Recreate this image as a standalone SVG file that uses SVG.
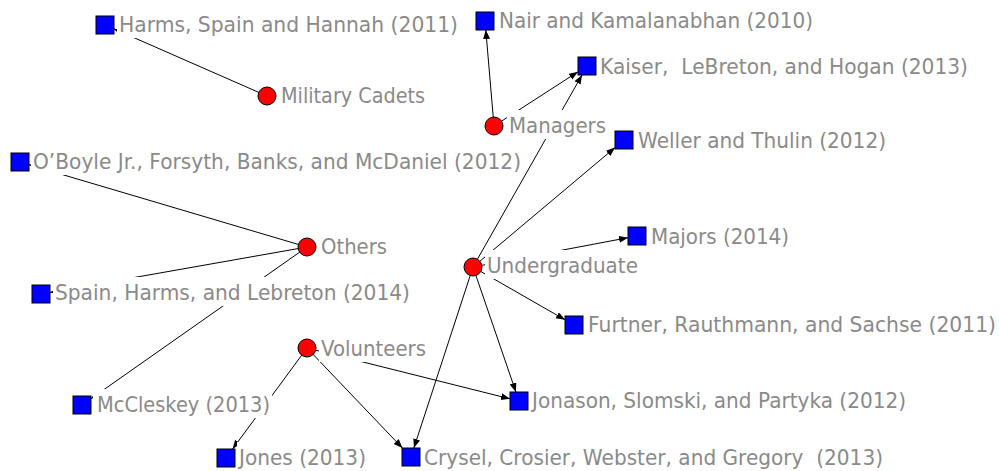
<svg xmlns="http://www.w3.org/2000/svg" width="999" height="471" viewBox="0 0 999 471">
<defs>
<marker id="arr" markerUnits="userSpaceOnUse" markerWidth="10" markerHeight="8" refX="9" refY="3.5" orient="auto">
<path d="M0,0 L9,3.5 L0,7 z" fill="#000"/>
</marker>
</defs>
<style>
.bg{fill:#fff;stroke:none}
.sq{fill:#0000ff;stroke:#000;stroke-width:1}
.ci{fill:#ff0000;stroke:#000;stroke-width:1}
.lb{font-family:"DejaVu Sans","Liberation Sans",sans-serif;font-size:20.5px;fill:#8a8a8a;white-space:pre}
.ed{stroke:#000;stroke-width:1;fill:none;marker-end:url(#arr)}
</style>
<rect width="999" height="471" fill="#fff"/>
<g id="connectors">
<line class="ed" x1="267" y1="96" x2="114" y2="28.9"/>
<line class="ed" x1="494" y1="126" x2="485.8" y2="30"/>
<line class="ed" x1="494" y1="126" x2="578" y2="71.8"/>
<line class="ed" x1="473" y1="267" x2="582" y2="75"/>
<line class="ed" x1="473" y1="267" x2="615" y2="147.6"/>
<line class="ed" x1="473" y1="267" x2="628" y2="237.7"/>
<line class="ed" x1="473" y1="267" x2="565" y2="319.8"/>
<line class="ed" x1="473" y1="267" x2="515.9" y2="392"/>
<line class="ed" x1="473" y1="267" x2="413.9" y2="448"/>
<line class="ed" x1="307" y1="348" x2="510" y2="398.8"/>
<line class="ed" x1="307" y1="348" x2="232.6" y2="449"/>
<line class="ed" x1="307" y1="348" x2="402.4" y2="448"/>
<line class="ed" x1="307" y1="247" x2="29" y2="164.7"/>
<line class="ed" x1="307" y1="247" x2="50" y2="292.4"/>
<line class="ed" x1="307" y1="247" x2="91" y2="398.7"/>
</g>
<g id="n-harms"><rect class="bg" x="117" y="9" width="343" height="29"/><rect class="sq" x="96" y="16" width="18" height="18"/><text class="lb" x="119" y="32" textLength="339" lengthAdjust="spacingAndGlyphs">Harms, Spain and Hannah (2011)</text></g>
<g id="n-military"><rect class="bg" x="279" y="80" width="148" height="29"/><circle class="ci" cx="267" cy="96" r="9"/><text class="lb" x="281" y="103" textLength="144" lengthAdjust="spacingAndGlyphs">Military Cadets</text></g>
<g id="n-nair"><rect class="bg" x="497" y="5" width="318" height="29"/><rect class="sq" x="476" y="12" width="18" height="18"/><text class="lb" x="499" y="28" textLength="314" lengthAdjust="spacingAndGlyphs">Nair and Kamalanabhan (2010)</text></g>
<g id="n-kaiser"><rect class="bg" x="598" y="51" width="372" height="29"/><rect class="sq" x="578" y="57" width="18" height="18"/><text class="lb" x="600" y="74" textLength="368" lengthAdjust="spacingAndGlyphs">Kaiser,  LeBreton, and Hogan (2013)</text></g>
<g id="n-managers"><rect class="bg" x="507" y="110" width="101" height="29"/><circle class="ci" cx="494" cy="126" r="9"/><text class="lb" x="509" y="133" textLength="97" lengthAdjust="spacingAndGlyphs">Managers</text></g>
<g id="n-weller"><rect class="bg" x="636" y="125" width="252" height="29"/><rect class="sq" x="615" y="131" width="18" height="18"/><text class="lb" x="638" y="148" textLength="248" lengthAdjust="spacingAndGlyphs">Weller and Thulin (2012)</text></g>
<g id="n-oboyle"><rect class="bg" x="31" y="146" width="492" height="29"/><rect class="sq" x="11" y="153" width="18" height="18"/><text class="lb" x="33" y="169" textLength="488" lengthAdjust="spacingAndGlyphs">O’Boyle Jr., Forsyth, Banks, and McDaniel (2012)</text></g>
<g id="n-others"><rect class="bg" x="319" y="231" width="70" height="29"/><circle class="ci" cx="307" cy="247" r="9"/><text class="lb" x="321" y="254" textLength="66" lengthAdjust="spacingAndGlyphs">Others</text></g>
<g id="n-majors"><rect class="bg" x="649" y="221" width="142" height="29"/><rect class="sq" x="628" y="227" width="18" height="18"/><text class="lb" x="651" y="244" textLength="138" lengthAdjust="spacingAndGlyphs">Majors (2014)</text></g>
<g id="n-undergraduate"><rect class="bg" x="485" y="250" width="155" height="29"/><circle class="ci" cx="473" cy="267" r="9"/><text class="lb" x="487" y="273" textLength="151" lengthAdjust="spacingAndGlyphs">Undergraduate</text></g>
<g id="n-spain"><rect class="bg" x="53" y="277" width="359" height="29"/><rect class="sq" x="32" y="285" width="18" height="18"/><text class="lb" x="55" y="300" textLength="355" lengthAdjust="spacingAndGlyphs">Spain, Harms, and Lebreton (2014)</text></g>
<g id="n-furtner"><rect class="bg" x="586" y="309" width="412" height="29"/><rect class="sq" x="565" y="316" width="18" height="18"/><text class="lb" x="588" y="332" textLength="408" lengthAdjust="spacingAndGlyphs">Furtner, Rauthmann, and Sachse (2011)</text></g>
<g id="n-volunteers"><rect class="bg" x="319" y="333" width="109" height="29"/><circle class="ci" cx="307" cy="348" r="9"/><text class="lb" x="321" y="356" textLength="105" lengthAdjust="spacingAndGlyphs">Volunteers</text></g>
<g id="n-jonason"><rect class="bg" x="530" y="385" width="378" height="29"/><rect class="sq" x="510" y="392" width="18" height="18"/><text class="lb" x="532" y="408" textLength="374" lengthAdjust="spacingAndGlyphs">Jonason, Slomski, and Partyka (2012)</text></g>
<g id="n-mccleskey"><rect class="bg" x="93" y="389" width="179" height="29"/><rect class="sq" x="73" y="396" width="18" height="18"/><text class="lb" x="97" y="412" textLength="173" lengthAdjust="spacingAndGlyphs">McCleskey (2013)</text></g>
<g id="n-jones"><rect class="bg" x="237" y="442" width="131" height="29"/><rect class="sq" x="217" y="449" width="18" height="18"/><text class="lb" x="239" y="465" textLength="127" lengthAdjust="spacingAndGlyphs">Jones (2013)</text></g>
<g id="n-crysel"><rect class="bg" x="422" y="442" width="463" height="29"/><rect class="sq" x="402" y="448" width="18" height="18"/><text class="lb" x="424" y="465" textLength="459" lengthAdjust="spacingAndGlyphs">Crysel, Crosier, Webster, and Gregory  (2013)</text></g>
</svg>
